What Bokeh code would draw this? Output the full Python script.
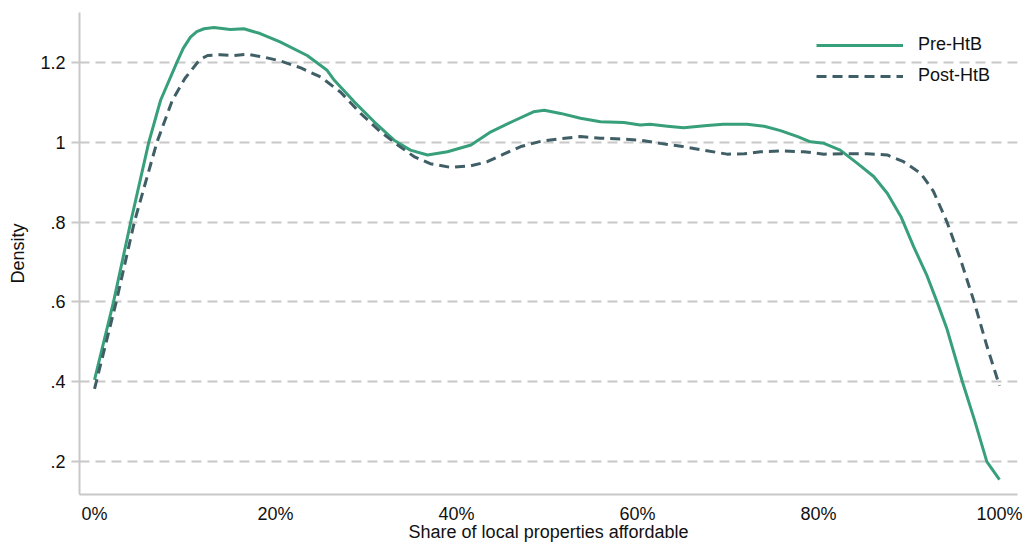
from bokeh.plotting import figure
from bokeh.models import Range1d, FixedTicker, Legend, LegendItem
from bokeh.embed import file_html
from bokeh.resources import INLINE

# Kernel density of the share of local properties affordable, before and after Help to Buy
pre_share = [0.000, 0.021, 0.040, 0.060, 0.073, 0.091, 0.098, 0.106, 0.113, 0.121,
             0.132, 0.150, 0.165, 0.183, 0.205, 0.235, 0.257, 0.265, 0.287, 0.309,
             0.331, 0.349, 0.368, 0.390, 0.416, 0.438, 0.463, 0.485, 0.497, 0.515,
             0.537, 0.559, 0.585, 0.603, 0.614, 0.633, 0.651, 0.677, 0.695, 0.721,
             0.740, 0.758, 0.777, 0.791, 0.806, 0.824, 0.843, 0.861, 0.876, 0.891,
             0.905, 0.920, 0.931, 0.942, 0.959, 0.972, 0.986, 1.000]
pre_density = [0.405, 0.600, 0.800, 1.000, 1.105, 1.200, 1.235, 1.263, 1.277, 1.284,
               1.287, 1.282, 1.284, 1.272, 1.251, 1.217, 1.180, 1.155, 1.101, 1.051,
               1.005, 0.980, 0.968, 0.976, 0.993, 1.026, 1.053, 1.076, 1.080, 1.072,
               1.060, 1.051, 1.049, 1.043, 1.045, 1.040, 1.036, 1.042, 1.045, 1.045,
               1.040, 1.029, 1.014, 1.001, 0.997, 0.980, 0.947, 0.914, 0.872, 0.814,
               0.739, 0.665, 0.600, 0.532, 0.400, 0.307, 0.200, 0.155]

post_share = [0.000, 0.024, 0.044, 0.069, 0.086, 0.100, 0.114, 0.119, 0.125, 0.139,
              0.154, 0.169, 0.187, 0.206, 0.228, 0.250, 0.272, 0.294, 0.316, 0.335,
              0.353, 0.371, 0.393, 0.416, 0.434, 0.452, 0.471, 0.493, 0.515, 0.537,
              0.559, 0.581, 0.603, 0.625, 0.648, 0.673, 0.699, 0.718, 0.736, 0.758,
              0.784, 0.806, 0.828, 0.854, 0.876, 0.894, 0.913, 0.927, 0.942, 0.957,
              0.972, 0.986, 1.000]
post_density = [0.382, 0.600, 0.800, 1.000, 1.105, 1.160, 1.200, 1.210, 1.217, 1.219,
                1.217, 1.220, 1.213, 1.203, 1.186, 1.163, 1.125, 1.072, 1.026, 0.993,
                0.964, 0.946, 0.937, 0.941, 0.951, 0.970, 0.989, 1.002, 1.009, 1.014,
                1.010, 1.008, 1.005, 0.997, 0.990, 0.980, 0.970, 0.971, 0.976, 0.978,
                0.976, 0.970, 0.971, 0.971, 0.968, 0.951, 0.922, 0.877, 0.800, 0.706,
                0.600, 0.490, 0.390]

x_ticks = [0.0, 0.2, 0.4, 0.6, 0.8, 1.0]
x_tick_labels = ["0%", "20%", "40%", "60%", "80%", "100%"]
y_ticks = [0.2, 0.4, 0.6, 0.8, 1.0, 1.2]
y_tick_labels = [".2", ".4", ".6", ".8", "1", "1.2"]

series_names = ["Pre-HtB", "Post-HtB"]
PRE_COLOR = "#37a07b"
POST_COLOR = "#3f5e66"
GRID = "#c8c8c8"
FONT = "Liberation Sans"

p = figure(width=1027, height=544,
           x_range=Range1d(-0.0166, 1.0199), y_range=Range1d(0.1177, 1.3247),
           output_backend="svg", toolbar_location=None,
           min_border_left=79, min_border_right=10, min_border_top=12,
           min_border_bottom=48)
p.outline_line_color = None
p.background_fill_color = "white"

pre = p.line(pre_share, pre_density, line_color=PRE_COLOR, line_width=3,
             line_join="round")
post = p.line(post_share, post_density, line_color=POST_COLOR, line_width=3,
              line_dash="10 6", line_join="round")

# axes
p.xaxis.ticker = FixedTicker(ticks=x_ticks)
p.xaxis.major_label_overrides = dict(zip(x_ticks, x_tick_labels))
p.yaxis.ticker = FixedTicker(ticks=y_ticks)
p.yaxis.major_label_overrides = dict(zip(y_ticks, y_tick_labels))

for ax in (p.xaxis[0], p.yaxis[0]):
    ax.axis_line_color = GRID
    ax.axis_line_width = 2
    ax.minor_tick_line_color = None
    ax.major_label_text_font = FONT
    ax.major_label_text_font_size = "18px"
    ax.major_label_text_color = "#111111"
    ax.axis_label_text_font = FONT
    ax.axis_label_text_font_size = "18px"
    ax.axis_label_text_font_style = "normal"
    ax.axis_label_text_color = "#111111"

p.xaxis.axis_label = "Share of local properties affordable"
p.xaxis.major_tick_line_color = None
p.xaxis.major_tick_out = 0
p.xaxis.major_tick_in = 0
p.xaxis.major_label_standoff = 9
p.xaxis.axis_label_standoff = -5

p.yaxis.axis_label = "Density"
p.yaxis.major_tick_line_color = GRID
p.yaxis.major_tick_line_width = 2
p.yaxis.major_tick_out = 8
p.yaxis.major_tick_in = 0
p.yaxis.major_label_standoff = 6
p.yaxis.axis_label_standoff = 9
p.yaxis.major_label_orientation = "horizontal"

p.xgrid.grid_line_color = None
p.ygrid.grid_line_color = GRID
p.ygrid.grid_line_width = 2
p.ygrid.grid_line_dash = "10 6"

legend = Legend(items=[LegendItem(label=series_names[0], renderers=[pre]),
                       LegendItem(label=series_names[1], renderers=[post])],
                location=(737, 408), orientation="vertical")
legend.border_line_color = None
legend.background_fill_alpha = 0
legend.label_text_font = FONT
legend.label_text_font_size = "18px"
legend.label_text_color = "#111111"
legend.glyph_width = 87
legend.glyph_height = 20
legend.label_height = 20
legend.label_standoff = 15
legend.spacing = 10
legend.padding = 5
legend.margin = 0
p.add_layout(legend, "center")

open("out.html", "w").write(file_html(p, INLINE))
